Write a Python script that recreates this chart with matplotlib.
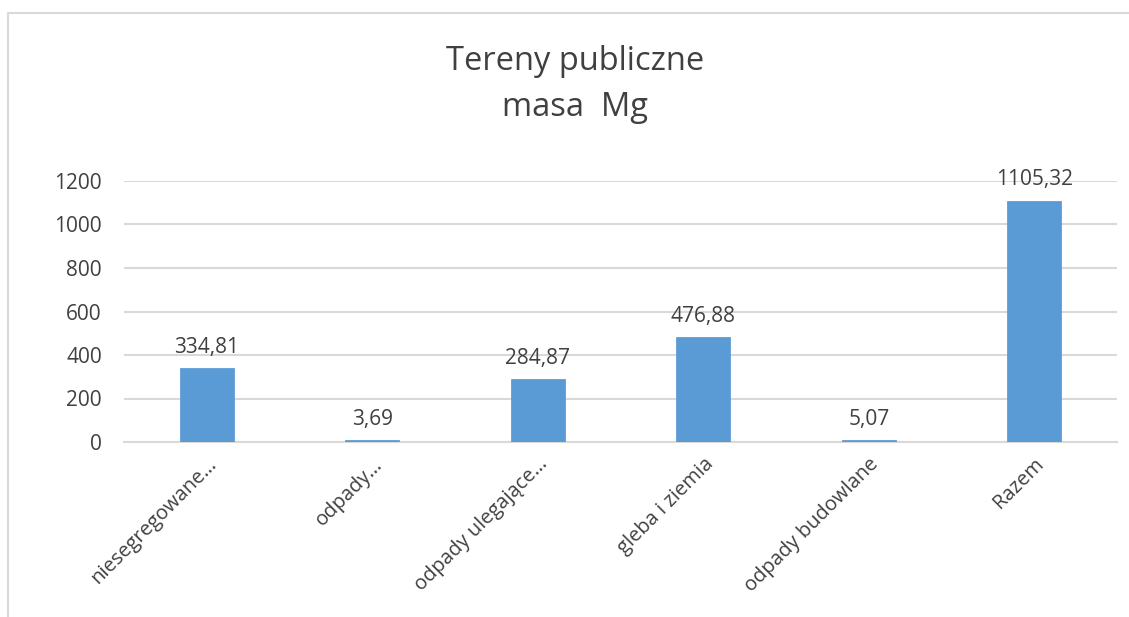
import matplotlib.pyplot as plt
from matplotlib.lines import Line2D

# data
categories = ['niesegregowane…', 'odpady…', 'odpady ulegające…',
              'gleba i ziemia', 'odpady budowlane', 'Razem']
values = [334.81, 3.69, 284.87, 476.88, 5.07, 1105.32]
value_labels = ['334,81', '3,69', '284,87', '476,88', '5,07', '1105,32']
yticks = [0, 200, 400, 600, 800, 1000, 1200]

plt.rcParams['font.family'] = ['Open Sans', 'DejaVu Sans']
txt = '#404040'

fig = plt.figure(figsize=(11.29, 6.17), dpi=100)
W, H = 1129, 617
# plot area in pixels: x 124..1117, y 181..442
ax = fig.add_axes([124 / W, 1 - 442 / H, (1117 - 124) / W, (442 - 181) / H])

x = range(len(categories))
ax.bar(x, values, width=0.315, color='#5B9BD5', edgecolor='#5B9BD5',
       linewidth=2, zorder=3)
for xi, v, lab in zip(x, values, value_labels):
    ax.annotate(lab, (xi, v), xytext=(0, 8), textcoords='offset points',
                ha='center', va='bottom', fontsize=15, color=txt)

ax.set_xlim(-0.5, len(categories) - 0.5)
ax.set_ylim(0, 1200)
ax.set_yticks(yticks)
ax.set_yticklabels([str(t) for t in yticks], fontsize=15, color=txt)
ax.yaxis.grid(True, color='#D9D9D9', linewidth=1.5, zorder=0)
ax.set_xticks(list(x))
ax.set_xticklabels(categories, rotation=45, ha='right', rotation_mode='anchor',
                   fontsize=14.5, color=txt)
ax.tick_params(axis='y', length=0, pad=16)
ax.tick_params(axis='x', length=0, pad=9)
for s in ['top', 'right', 'left']:
    ax.spines[s].set_visible(False)
ax.spines['bottom'].set_color('#D9D9D9')
ax.spines['bottom'].set_linewidth(1.5)

fig.text(575 / W, 1 - 61 / H, 'Tereny publiczne', ha='center', va='center',
         fontsize=23.5, color=txt)
fig.text(575 / W, 1 - 107 / H, 'masa  Mg', ha='center', va='center',
         fontsize=23.5, color=txt)

# outer frame (top and left edges visible)
fig.add_artist(Line2D([8 / W, 8 / W, 1], [0, 1 - 13 / H, 1 - 13 / H],
                      transform=fig.transFigure, color='#D9D9D9', linewidth=1.5))

fig.savefig('out.png', dpi=100, facecolor='white')
